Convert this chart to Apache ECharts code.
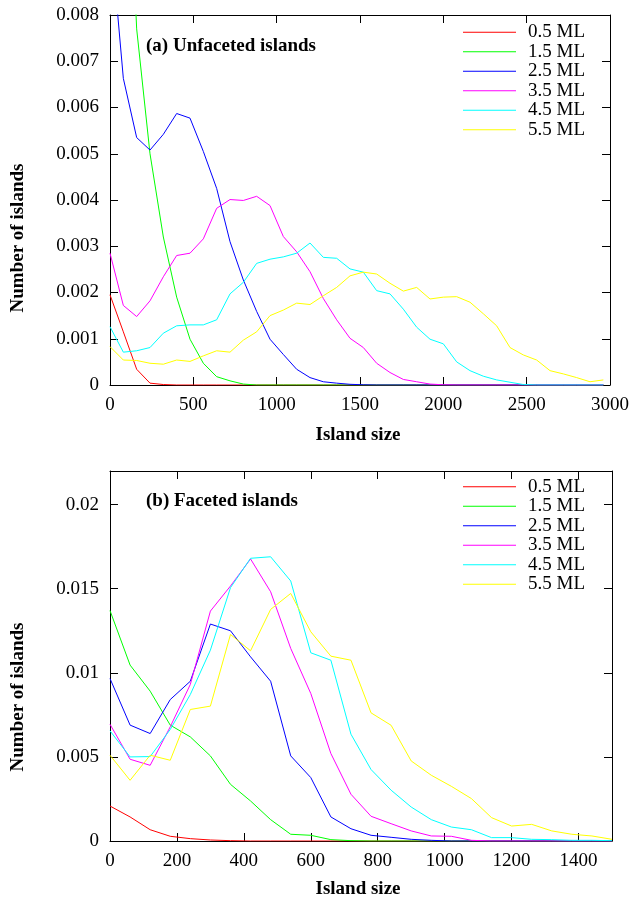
<!DOCTYPE html>
<html>
<head>
<meta charset="utf-8">
<script src="https://cdn.jsdelivr.net/npm/echarts@6/dist/echarts.min.js"></script>
<style>
html,body{margin:0;padding:0;background:#fff;}
#chart{width:632px;height:900px;}
</style>
</head>
<body>
<div id="chart"></div>
<script>
// ---------- DATA ----------
const seriesNames = ['0.5 ML', '1.5 ML', '2.5 ML', '3.5 ML', '4.5 ML', '5.5 ML'];
const seriesColors = ['#ff0000', '#00ff00', '#0000ff', '#ff00ff', '#00ffff', '#ffff00'];

// Panel (a) Unfaceted islands
const sizesA = [0, 80, 160, 240, 320, 400, 480, 560, 640, 720, 800, 880, 960, 1040, 1120, 1200, 1280, 1360, 1440, 1520,
  1600, 1680, 1760, 1840, 1920, 2000, 2080, 2160, 2240, 2320, 2400, 2480, 2560, 2640, 2720, 2800, 2880, 2960];
const unfaceted05 = [0.00195, 0.00115, 0.00034, 0.00004, 0.00001, 0, 0, 0, 0, 0, 0, 0, 0, 0, 0, 0, 0, 0, 0, 0,
  0, 0, 0, 0, 0, 0, 0, 0, 0, 0, 0, 0, 0, 0, 0, 0, 0, 0];
const unfaceted15 = [0.025, 0.014, 0.0077, 0.0050, 0.0032, 0.0019, 0.00099, 0.00047, 0.00018, 0.00009, 0.00002, 0, 0, 0, 0, 0, 0, 0, 0, 0,
  0, 0, 0, 0, 0, 0, 0, 0, 0, 0, 0, 0, 0, 0, 0, 0, 0, 0];
const unfaceted25 = [0.0099, 0.00663, 0.00535, 0.00508, 0.00542, 0.00587, 0.00577, 0.00505, 0.00425, 0.0031, 0.00227, 0.00159, 0.00099, 0.00066, 0.00034, 0.00016, 0.00007, 0.00004, 0.000015, 0.000005,
  0, 0, 0, 0, 0, 0, 0, 0, 0, 0, 0, 0, 0, 0, 0, 0, 0, 0];
const unfaceted35 = [0.00285, 0.00172, 0.00148, 0.00182, 0.00234, 0.0028, 0.00285, 0.00316, 0.00382, 0.00401, 0.00399, 0.00408, 0.00388, 0.00321, 0.00288, 0.00245, 0.00187, 0.00141, 0.00101, 0.00081,
  0.00047, 0.00027, 0.00012, 0.00007, 0.00002, 0.000005, 0, 0, 0, 0, 0, 0, 0, 0, 0, 0, 0, 0];
const unfaceted45 = [0.00126, 0.00071, 0.00074, 0.00081, 0.00112, 0.00128, 0.0013, 0.0013, 0.00141, 0.00197, 0.00222, 0.00263, 0.00272, 0.00277, 0.00285, 0.00307, 0.00276, 0.00274, 0.00251, 0.00244,
  0.00204, 0.00197, 0.00164, 0.00125, 0.00099, 0.00089, 0.0005, 0.00031, 0.00019, 0.00011, 0.00006, 0.00001, 0, 0, 0, 0, 0, 0];
const unfaceted55 = [0.00083, 0.00054, 0.00053, 0.00047, 0.00045, 0.00054, 0.00051, 0.00063, 0.00074, 0.00071, 0.00097, 0.00115, 0.0015, 0.00162, 0.00177, 0.00174, 0.00193, 0.00211, 0.00236, 0.00244,
  0.0024, 0.0022, 0.00203, 0.00211, 0.00186, 0.0019, 0.00191, 0.00179, 0.00154, 0.00128, 0.00081, 0.00065, 0.00054, 0.00031, 0.00024, 0.00016, 0.00007, 0.00011];

// Panel (b) Faceted islands
const sizesB = [0, 60, 120, 180, 240, 300, 360, 420, 480, 540, 600, 660, 720, 780, 840, 900, 960, 1020, 1080, 1140,
  1200, 1260, 1320, 1380, 1440, 1500];
const faceted05 = [0.00208, 0.00143, 0.00067, 0.00028, 0.00014, 0.00006, 0.00002, 0, 0, 0, 0, 0, 0, 0, 0, 0, 0, 0, 0, 0, 0, 0, 0, 0, 0, 0];
const faceted15 = [0.0137, 0.01046, 0.00891, 0.00689, 0.00619, 0.00506, 0.00337, 0.00238, 0.00127, 0.0004, 0.00034, 0.00008, 0.00002, 0, 0, 0, 0, 0, 0, 0, 0, 0, 0, 0, 0, 0];
const faceted25 = [0.00966, 0.00689, 0.00639, 0.00841, 0.0095, 0.0129, 0.0125, 0.01095, 0.0095, 0.00506, 0.00377, 0.00143, 0.00073, 0.00034, 0.00022, 0.0001, 0.00004, 0, 0, 0, 0, 0, 0, 0, 0, 0];
const faceted35 = [0.00694, 0.00486, 0.0045, 0.00679, 0.00931, 0.01367, 0.01516, 0.01677, 0.01482, 0.01145, 0.00877, 0.0052, 0.00278, 0.00147, 0.00103, 0.0006, 0.0003, 0.00028, 0.00004, 0, 0, 0, 0, 0, 0, 0];
const faceted45 = [0.00655, 0.005, 0.00502, 0.00663, 0.00871, 0.01135, 0.01506, 0.01681, 0.0169, 0.01546, 0.01119, 0.01075, 0.00635, 0.00425, 0.00302, 0.00202, 0.00127, 0.00083, 0.00067, 0.0002, 0.0002, 0.0001, 0.00008, 0.00004, 0.00004, 0.00002];
const faceted55 = [0.0051, 0.00361, 0.0051, 0.0048, 0.00782, 0.00802, 0.01228, 0.01131, 0.01377, 0.01472, 0.01244, 0.01099, 0.01075, 0.00762, 0.00688, 0.00476, 0.00391, 0.00325, 0.00252, 0.00139, 0.00089, 0.00099, 0.0006, 0.0004, 0.0003, 0.0001];

const panelATitle = '(a) Unfaceted islands';
const panelBTitle = '(b) Faceted islands';
const xTitle = 'Island size';
const yTitle = 'Number of islands';

// ---------- CHART ----------
const FONT = "'Liberation Serif', 'DejaVu Serif', 'Times New Roman', serif";
const FS = 19;
const chart = echarts.init(document.getElementById('chart'), null, {renderer: 'canvas'});

const gridsDef = [
  {left: 110, top: 15, width: 502, height: 370},
  {left: 110, top: 471, width: 502, height: 370}
];

function plainNum(v) { return String(parseFloat(Number(v).toFixed(6))); }

function makeAxis(grid, pos, min, max, interval, showLabel, margin) {
  return {
    type: 'value', gridIndex: grid, position: pos, min: min, max: max, interval: interval,
    axisLine: {show: true, onZero: false, lineStyle: {color: '#000', width: 1}},
    axisTick: {show: true, inside: true, length: 8, lineStyle: {color: '#000', width: 1}},
    splitLine: {show: false},
    axisLabel: {show: showLabel, margin: margin, color: '#000', fontFamily: FONT, fontSize: FS,
      showMaxLabel: Math.abs(max / interval - Math.round(max / interval)) < 1e-9,
      formatter: plainNum},
  };
}

const xAxes = [
  makeAxis(0, 'bottom', 0, 3000, 500, true, 11),
  makeAxis(0, 'top', 0, 3000, 500, false, 11),
  makeAxis(1, 'bottom', 0, 1500, 200, true, 11),
  makeAxis(1, 'top', 0, 1500, 200, false, 11)
];
const yAxes = [
  makeAxis(0, 'left', 0, 0.008, 0.001, true, 11),
  makeAxis(0, 'right', 0, 0.008, 0.001, false, 11),
  makeAxis(1, 'left', 0, 0.022, 0.005, true, 11),
  makeAxis(1, 'right', 0, 0.022, 0.005, false, 11)
];

const dataA = [unfaceted05, unfaceted15, unfaceted25, unfaceted35, unfaceted45, unfaceted55];
const dataB = [faceted05, faceted15, faceted25, faceted35, faceted45, faceted55];

const series = [];
dataA.forEach(function (arr, k) {
  series.push({
    name: seriesNames[k], type: 'line', xAxisIndex: 0, yAxisIndex: 0,
    data: sizesA.map(function (x, i) { return [x, arr[i]]; }),
    symbol: 'none', clip: true, animation: false,
    lineStyle: {color: seriesColors[k], width: 1}, itemStyle: {color: seriesColors[k]}
  });
});
dataB.forEach(function (arr, k) {
  series.push({
    name: seriesNames[k], type: 'line', xAxisIndex: 2, yAxisIndex: 2,
    data: sizesB.map(function (x, i) { return [x, arr[i]]; }),
    symbol: 'none', clip: true, animation: false,
    lineStyle: {color: seriesColors[k], width: 1}, itemStyle: {color: seriesColors[k]}
  });
});

function legendAt(top) {
  return {
    orient: 'vertical', left: 463, top: top, padding: 0,
    data: seriesNames.map(function (n) { return {name: n, icon: 'rect'}; }),
    itemWidth: 53, itemHeight: 1.2, itemGap: 0, selectedMode: false,
    textStyle: {color: '#000', fontFamily: FONT, fontSize: FS, lineHeight: 19.5, padding: [0, 0, 0, 7]}
  };
}

function txt(x, y, s, align, rot) {
  return {
    type: 'text', x: x, y: y, rotation: rot || 0, silent: true,
    style: {text: s, fill: '#000', font: 'bold ' + FS + 'px ' + FONT,
      textAlign: align, textVerticalAlign: 'middle'}
  };
}

chart.setOption({
  animation: false,
  backgroundColor: '#fff',
  grid: gridsDef,
  xAxis: xAxes,
  yAxis: yAxes,
  legend: [legendAt(22.5), legendAt(477)],
  series: series,
  graphic: [
    txt(146, 46.5, panelATitle, 'left'),
    txt(146, 501.5, panelBTitle, 'left'),
    txt(358, 435, xTitle, 'center'),
    txt(358, 889, xTitle, 'center'),
    txt(18, 238, yTitle, 'center', Math.PI / 2),
    txt(18, 697, yTitle, 'center', Math.PI / 2)
  ]
});
</script>
</body>
</html>
